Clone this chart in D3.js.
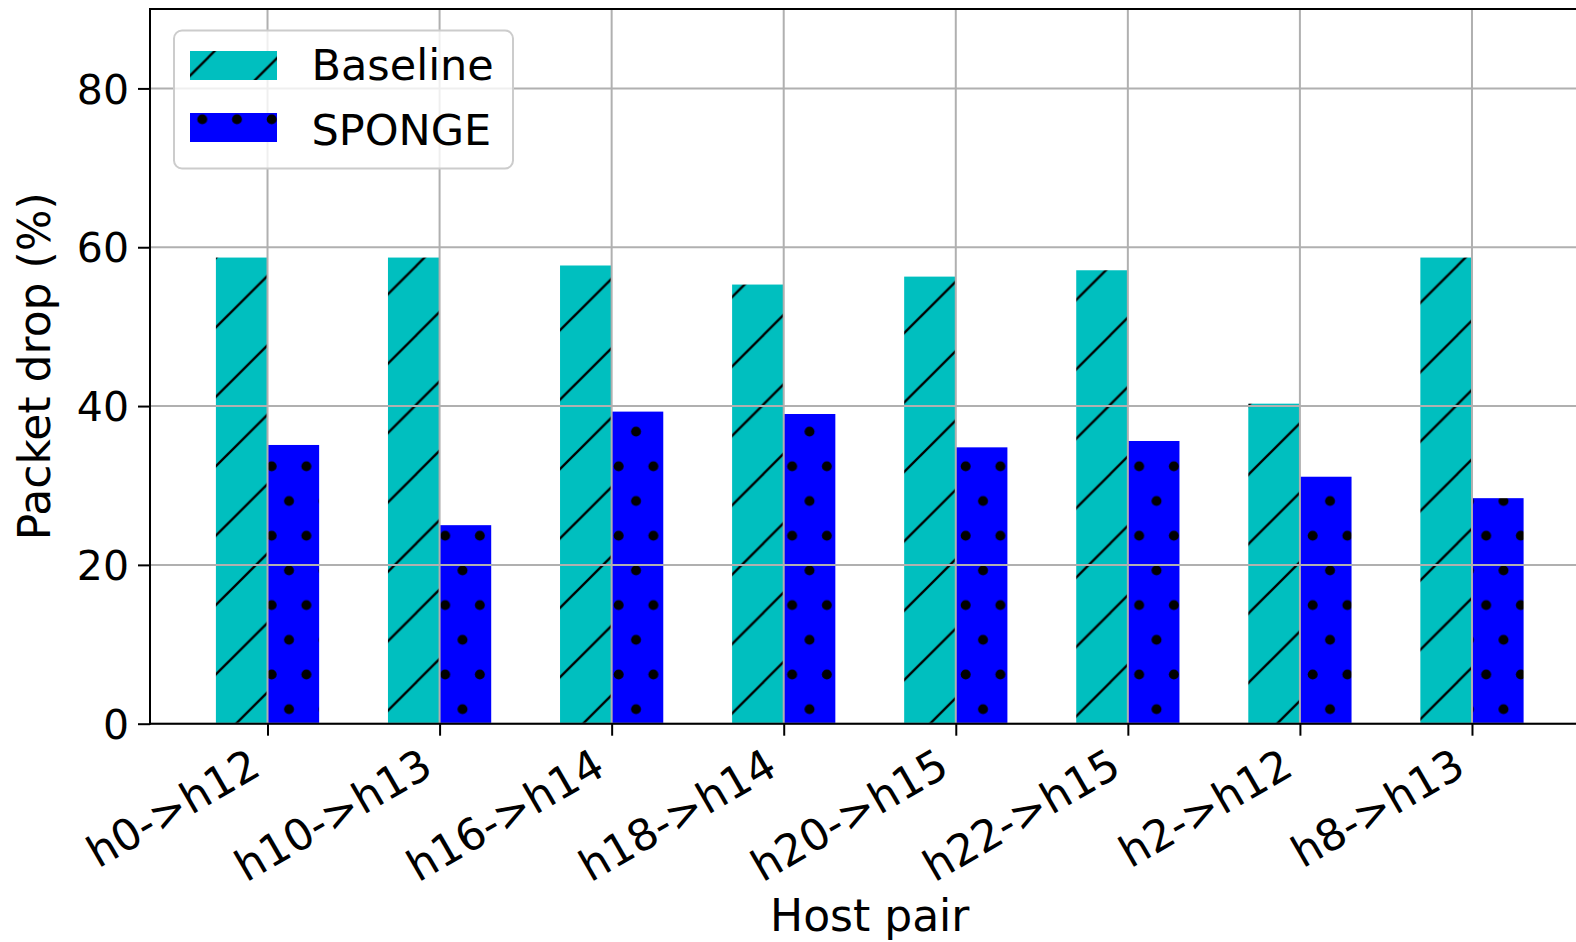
<!DOCTYPE html>
<html>
<head>
<meta charset="utf-8">
<script src="https://cdn.jsdelivr.net/npm/d3@7"></script>
<style>
  html, body { margin: 0; padding: 0; background: #ffffff; }
  svg { display: block; }
  text { font-family: "DejaVu Sans", sans-serif; fill: #000; }
</style>
</head>
<body>
<svg id="chart" width="1576" height="942"></svg>
<script>
// Packet drop per host pair, Baseline vs SPONGE
const categories = ["h0->h12", "h10->h13", "h16->h14", "h18->h14", "h20->h15", "h22->h15", "h2->h12", "h8->h13"];
const baselineValues = [58.7, 58.7, 57.7, 55.3, 56.3, 57.1, 40.3, 58.7];
const spongeValues = [35.1, 25.0, 39.3, 39.0, 34.8, 35.6, 31.1, 28.4];
const seriesNames = ["Baseline", "SPONGE"];
const yTickValues = [0, 20, 40, 60, 80];

const plot = { left: 150, right: 1589.5, top: 9, bottom: 723.7 };
const barWidth = 0.3;
const tickFont = 41;
const xTickFont = 43.5;
const labelFont = 44;
const legendFont = 43;

const svg = d3.select("#chart");

const x = d3.scaleLinear().domain([-0.683, categories.length - 1 + 0.683]).range([plot.left, plot.right]);
const y = d3.scaleLinear().domain([0, 90]).range([plot.bottom, plot.top]);

// ---- hatch patterns (anchored to the page, continuous across bars) ----
const defs = svg.append("defs");
const hp = 69.4;
const hatch = defs.append("pattern")
  .attr("id", "hatchDiag")
  .attr("patternUnits", "userSpaceOnUse")
  .attr("x", 0).attr("y", 57.5)
  .attr("width", hp).attr("height", hp);
hatch.append("rect").attr("width", hp).attr("height", hp).attr("fill", "#00bfbf");
[[0, hp, hp, 0], [-hp / 2, hp / 2, hp / 2, -hp / 2], [hp / 2, 1.5 * hp, 1.5 * hp, hp / 2]].forEach(s => {
  hatch.append("line")
    .attr("x1", s[0]).attr("y1", s[1]).attr("x2", s[2]).attr("y2", s[3])
    .attr("stroke", "#000").attr("stroke-width", 2.3);
});

const dw = 34.7, dh = 69.4;
const dots = defs.append("pattern")
  .attr("id", "hatchDots")
  .attr("patternUnits", "userSpaceOnUse")
  .attr("x", 20.1).attr("y", 32.55)
  .attr("width", dw).attr("height", dh);
dots.append("rect").attr("width", dw).attr("height", dh).attr("fill", "#0000ff");
dots.append("circle").attr("cx", dw / 4).attr("cy", dh / 4).attr("r", 5).attr("fill", "#000");
dots.append("circle").attr("cx", dw * 3 / 4).attr("cy", dh * 3 / 4).attr("r", 5).attr("fill", "#000");

const fills = ["url(#hatchDiag)", "url(#hatchDots)"];

// ---- bars ----
const bars = svg.append("g");
bars.selectAll("rect.base").data(baselineValues).join("rect")
  .attr("class", "base")
  .attr("x", (d, i) => x(i - barWidth))
  .attr("width", (d, i) => x(i) - x(i - barWidth))
  .attr("y", d => y(d))
  .attr("height", d => y(0) - y(d))
  .attr("fill", fills[0]);
bars.selectAll("rect.sponge").data(spongeValues).join("rect")
  .attr("class", "sponge")
  .attr("x", (d, i) => x(i))
  .attr("width", (d, i) => x(i + barWidth) - x(i))
  .attr("y", d => y(d))
  .attr("height", d => y(0) - y(d))
  .attr("fill", fills[1]);

// ---- grid (drawn over the bars) ----
const grid = svg.append("g").attr("stroke", "#b0b0b0").attr("stroke-width", 2);
grid.selectAll("line.h").data(yTickValues).join("line")
  .attr("x1", plot.left).attr("x2", plot.right)
  .attr("y1", d => y(d)).attr("y2", d => y(d));
grid.selectAll("line.v").data(categories).join("line")
  .attr("x1", (d, i) => x(i)).attr("x2", (d, i) => x(i))
  .attr("y1", plot.top).attr("y2", plot.bottom);

// ---- axes ----
const yAxis = svg.append("g")
  .attr("transform", `translate(${plot.left},0)`)
  .call(d3.axisLeft(y).tickValues(yTickValues).tickSize(12).tickSizeOuter(0).tickPadding(9));
const xAxis = svg.append("g")
  .attr("transform", `translate(0,${plot.bottom})`)
  .call(d3.axisBottom(x).tickValues(d3.range(categories.length)).tickFormat(i => categories[i])
    .tickSize(12).tickSizeOuter(0));

[yAxis, xAxis].forEach(g => {
  g.select(".domain").remove();
  g.selectAll(".tick line").attr("stroke", "#000").attr("stroke-width", 2);
  g.selectAll(".tick text").attr("font-family", "DejaVu Sans");
});
yAxis.selectAll(".tick text").attr("font-size", tickFont).attr("dy", "0.36em");

xAxis.selectAll(".tick text")
  .attr("font-size", xTickFont)
  .attr("text-anchor", "end")
  .attr("dy", 0)
  .attr("y", 0)
  .attr("transform", "translate(-5,50) rotate(-30)");

// spines
const spines = svg.append("g").attr("stroke", "#000").attr("stroke-width", 2).attr("fill", "none");
spines.append("line").attr("x1", plot.left).attr("x2", plot.left).attr("y1", plot.top - 1).attr("y2", plot.bottom + 1);
spines.append("line").attr("x1", plot.left).attr("x2", plot.right).attr("y1", plot.bottom).attr("y2", plot.bottom);
spines.append("line").attr("x1", plot.left).attr("x2", plot.right).attr("y1", plot.top).attr("y2", plot.top);
spines.append("line").attr("x1", plot.right).attr("x2", plot.right).attr("y1", plot.top).attr("y2", plot.bottom);

// axis titles
svg.append("text")
  .attr("x", (plot.left + plot.right) / 2).attr("y", 931)
  .attr("text-anchor", "middle").attr("font-size", labelFont)
  .text("Host pair");
svg.append("text")
  .attr("transform", `translate(50,${(plot.top + plot.bottom) / 2}) rotate(-90)`)
  .attr("text-anchor", "middle").attr("font-size", labelFont)
  .text("Packet drop (%)");

// ---- legend ----
const legend = svg.append("g");
legend.append("rect")
  .attr("x", 174).attr("y", 30.5).attr("width", 339).attr("height", 138)
  .attr("rx", 8).attr("ry", 8)
  .attr("fill", "rgba(255,255,255,0.8)")
  .attr("stroke", "#cccccc").attr("stroke-width", 2);
const legendRows = [{ y: 51, base: 79.5 }, { y: 113, base: 144.5 }];
seriesNames.forEach((name, i) => {
  legend.append("rect")
    .attr("x", 190).attr("y", legendRows[i].y)
    .attr("width", 87).attr("height", 29)
    .attr("fill", fills[i]);
  legend.append("text")
    .attr("x", 311.5).attr("y", legendRows[i].base)
    .attr("font-size", legendFont)
    .text(name);
});
</script>
</body>
</html>
